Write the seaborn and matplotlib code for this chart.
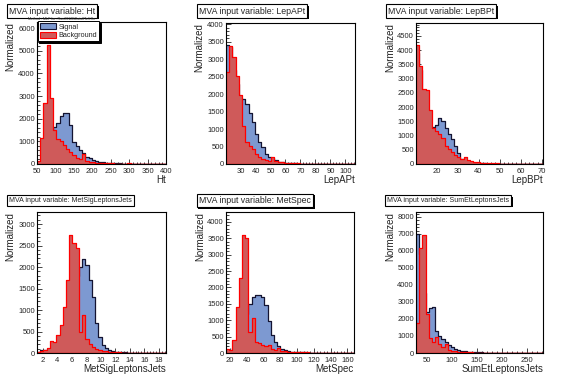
import numpy as np
import pandas as pd
import matplotlib
matplotlib.use("Agg")
import matplotlib.pyplot as plt
import matplotlib.patheffects as pe
from matplotlib.patches import Patch
from matplotlib.ticker import MultipleLocator, AutoMinorLocator
import seaborn as sns

# variable names and x ranges (TMVA, 40 bins each)
variables = ["Ht", "LepAPt", "LepBPt", "MetSigLeptonsJets", "MetSpec", "SumEtLeptonsJets"]
x_ranges = [(50, 400), (20.2, 106.5), (10.3, 70.6), (1.2, 19), (15.2, 168), (28, 282)]
y_tops = [6265, 4030, 4957, 3280, 4305, 8294]
x_major = [50, 10, 10, 2, 20, 50]
y_major = [1000, 500, 500, 500, 500, 1000]

# bin contents
ht_sig = [20, 150, 500, 1000, 1500, 1650, 1800, 2100, 2250, 2270, 1700, 950, 800, 620, 470, 330,
          250, 180, 130, 100, 70, 55, 45, 35, 30, 25, 20, 18, 15, 12, 10, 10, 8, 8, 6, 6, 5, 5, 4, 4]
ht_bkg = [150, 1150, 2700, 5250, 2900, 1500, 1100, 1000, 820, 680, 540, 400, 260, 200, 420, 150,
          100, 80, 60, 50, 40, 35, 30, 25, 22, 20, 18, 15, 30, 12, 10, 10, 8, 20, 8, 6, 6, 5, 5, 5]

lepa_sig = [3400, 3350, 2700, 2300, 1900, 1850, 1720, 1460, 1200, 870, 630, 490, 300, 210, 160, 110,
            70, 50, 35, 25, 20, 15, 12, 10, 8, 7, 6, 5, 5, 4, 4, 3, 3, 3, 2, 2, 2, 2, 2, 2]
lepa_bkg = [2620, 3375, 3050, 2525, 1960, 1100, 620, 520, 430, 300, 200, 150, 120, 100, 200, 80,
            60, 45, 35, 28, 22, 18, 15, 12, 10, 9, 8, 7, 6, 5, 5, 4, 4, 3, 3, 3, 2, 2, 2, 2]

lepb_sig = [3900, 3300, 2400, 1900, 1300, 1300, 1380, 1600, 1500, 1250, 1050, 870, 620, 380, 170, 110,
            80, 60, 40, 30, 25, 20, 15, 12, 10, 8, 7, 6, 5, 5, 4, 4, 3, 3, 3, 2, 2, 2, 2, 2]
lepb_bkg = [4200, 3450, 2650, 2600, 1900, 1250, 1150, 1050, 900, 650, 520, 420, 300, 230, 180, 250,
            140, 120, 80, 60, 50, 40, 30, 25, 20, 18, 15, 12, 10, 10, 8, 8, 6, 6, 5, 5, 4, 4, 4, 3]

msig_sig = [30, 80, 60, 30, 40, 80, 150, 250, 450, 750, 1100, 1500, 1800, 2000, 2180, 2050,
            1700, 1300, 700, 380, 190, 110, 70, 45, 30, 20, 15, 12, 10, 8, 6, 5, 5, 4, 4, 3, 3, 3, 2, 2]
msig_bkg = [20, 40, 60, 120, 280, 260, 420, 650, 1080, 1700, 2750, 2550, 2450, 480, 880, 330,
            220, 150, 90, 60, 50, 35, 25, 20, 15, 12, 10, 8, 6, 5, 5, 4, 4, 3, 3, 3, 2, 2, 2, 2]

mspec_sig = [20, 50, 150, 350, 700, 1000, 1200, 1500, 1700, 1770, 1780, 1700, 1480, 980, 560, 350,
             200, 120, 80, 55, 40, 30, 25, 20, 18, 15, 12, 10, 10, 8, 8, 6, 6, 5, 5, 4, 4, 4, 3, 3]
mspec_bkg = [130, 100, 400, 1400, 2300, 3590, 3500, 650, 1080, 350, 300, 250, 200, 240, 130, 100,
             150, 70, 50, 40, 35, 30, 25, 22, 20, 18, 15, 12, 10, 10, 8, 8, 6, 6, 5, 5, 5, 4, 4, 4]

sumet_sig = [6980, 5800, 3500, 2400, 2650, 2700, 1300, 1000, 850, 650, 480, 350, 250, 170, 120, 90,
             70, 55, 45, 35, 30, 25, 20, 18, 15, 12, 10, 10, 8, 8, 6, 6, 5, 5, 4, 4, 4, 3, 3, 3]
sumet_bkg = [1750, 6200, 6950, 2300, 900, 650, 950, 550, 370, 520, 200, 120, 90, 70, 55, 45,
             35, 30, 25, 20, 18, 15, 12, 10, 10, 8, 8, 6, 6, 5, 5, 4, 4, 4, 3, 3, 3, 2, 2, 2]

signals = [ht_sig, lepa_sig, lepb_sig, msig_sig, mspec_sig, sumet_sig]
backgrounds = [ht_bkg, lepa_bkg, lepb_bkg, msig_bkg, mspec_bkg, sumet_bkg]

SIG_FILL = "#7d99d1"
SIG_LINE = "#141432"
BKG_FILL = "#cf5a5a"
BKG_LINE = "#ff0000"

sns.set_theme(style="ticks")
plt.rcParams["font.family"] = ["Liberation Sans", "DejaVu Sans"]

W, H = 567, 379
fig = plt.figure(figsize=(W / 100, H / 100), dpi=100)
fig.patch.set_facecolor("white")

# frame boxes in pixels: left, right, top, bottom
frames = [(37, 166, 22, 164), (226, 355, 23, 164), (416, 543, 23, 164),
          (37, 166, 212, 353), (226, 354, 212, 353), (416, 543, 212, 353)]
title_pos = [(9, 11), (199, 11), (388, 11), (9, 200.5), (199, 200.5), (387, 200.5)]
title_size = [6.3, 6.3, 6.3, 5.0, 6.3, 5.0]

box_shadow = [pe.SimplePatchShadow(offset=(1.2, -1.2), shadow_rgbFace="black", alpha=1),
              pe.Normal()]

for i, name in enumerate(variables):
    l, r, t, b = frames[i]
    ax = fig.add_axes([l / W, 1 - b / H, (r - l) / W, (b - t) / H])
    lo, hi = x_ranges[i]
    edges = list(np.linspace(lo, hi, 41))
    centers = [0.5 * (edges[k] + edges[k + 1]) for k in range(40)]
    df = pd.DataFrame({"x": centers, "sig": signals[i], "bkg": backgrounds[i]})

    sns.histplot(data=df, x="x", weights="sig", bins=edges, element="step", fill=True,
                 facecolor=SIG_FILL, edgecolor=SIG_LINE, linewidth=0.9, alpha=1, ax=ax)
    sns.histplot(data=df, x="x", weights="bkg", bins=edges, element="step", fill=True,
                 facecolor=BKG_FILL, edgecolor=BKG_LINE, linewidth=0.9, alpha=1, ax=ax)

    ax.set_xlim(lo, hi)
    ax.set_ylim(0, y_tops[i])
    ax.xaxis.set_major_locator(MultipleLocator(x_major[i]))
    ax.yaxis.set_major_locator(MultipleLocator(y_major[i]))
    ax.xaxis.set_minor_locator(AutoMinorLocator(5))
    ax.yaxis.set_minor_locator(AutoMinorLocator(5))
    ax.tick_params(which="both", direction="in", labelsize=5.5, width=0.6)
    ax.tick_params(axis="x", which="both", pad=3)
    ax.tick_params(axis="y", which="both", pad=1.5)
    ax.tick_params(which="major", length=3.5)
    ax.tick_params(which="minor", length=1.8)
    for s in ax.spines.values():
        s.set_linewidth(0.8)
        s.set_color("black")

    ax.set_xlabel(name, loc="right", fontsize=7)
    ax.xaxis.set_label_coords(1.0, -0.08)
    ax.set_ylabel("Normalized", loc="top", fontsize=7)
    ax.yaxis.set_label_coords(-0.165, 1.0)

    tx, ty = title_pos[i]
    title = fig.text(tx / W, 1 - ty / H, "MVA input variable: " + name, fontsize=title_size[i],
                     ha="left", va="center",
                     bbox=dict(boxstyle="square,pad=0.25", fc="white", ec="black", lw=0.8))
    title.get_bbox_patch().set_path_effects(box_shadow)

    if i == 0:
        handles = [Patch(facecolor=SIG_FILL, edgecolor=SIG_LINE, lw=0.8, label="Signal"),
                   Patch(facecolor=BKG_FILL, edgecolor=BKG_LINE, lw=0.8, label="Background")]
        leg = ax.legend(handles=handles, loc="upper left", bbox_to_anchor=(0.005, 1.005),
                        fontsize=5.2, frameon=True, fancybox=False, edgecolor="black",
                        framealpha=1, borderpad=0.3, labelspacing=0.1, handlelength=2.2,
                        handleheight=0.9, handletextpad=0.4, borderaxespad=0,
                        shadow={"color": "black", "alpha": 1, "ox": 1, "oy": -1})
        leg.get_frame().set_linewidth(0.7)

fig.text(28 / W, 1 - 18.5 / H, "Method : MLP for: Run2012BData8TeV.fIn", fontsize=2.6,
         ha="left", va="center", color="#333333")

fig.savefig("out.png", dpi=100)
